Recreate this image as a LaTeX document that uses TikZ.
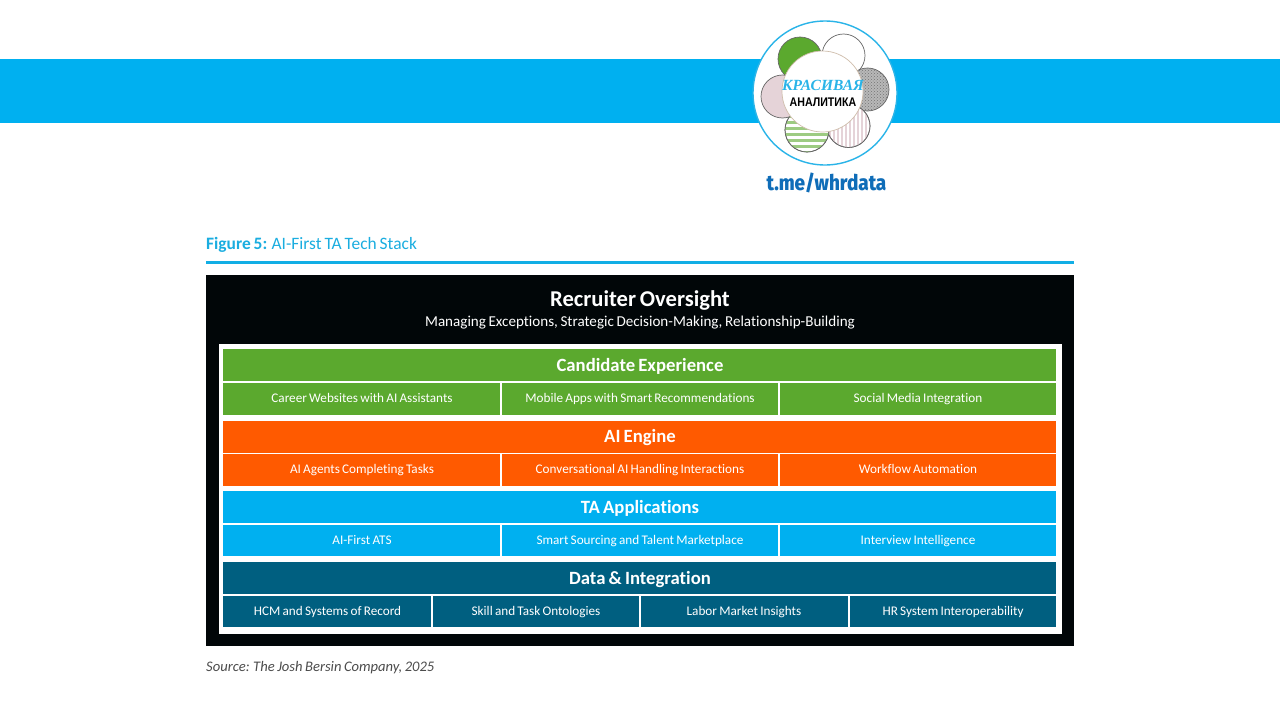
\documentclass[tikz,border=0pt]{standalone}
\usepackage{fontspec}
\setmainfont[WordSpace=0.75,Ligatures=CommonOff]{Carlito}
\newfontfamily\logoserif{Liberation Serif}
\newfontfamily\logosans{Liberation Sans}
\newfontfamily\logolink{Fira Sans ExtraBold}
\usetikzlibrary{patterns}
\definecolor{band}{HTML}{00B0F0}
\definecolor{ring}{HTML}{2AB4E8}
\definecolor{cgreen}{HTML}{5BA92E}
\definecolor{corange}{HTML}{FF5A00}
\definecolor{cteal}{HTML}{005F80}
\definecolor{stackblack}{HTML}{010608}
\definecolor{figblue}{HTML}{1AADE0}
\definecolor{linkblue}{HTML}{0F6DB8}
\definecolor{petalpink}{HTML}{E5D3D8}
\tikzset{
  x=1pt,y=-1pt,
  cell/.style={anchor=base,inner sep=0pt,text=white,font=\fontsize{13.2}{15}\selectfont},
  head/.style={anchor=base,inner sep=0pt,text=white,font=\bfseries\fontsize{18.7}{21}\selectfont},
  petal/.style={draw=black!60,line width=0.7pt},
}
\newcommand{\stackbar}[3]{\fill[#1] (223,#2) rectangle (1056,#3);}
\begin{document}
\begin{tikzpicture}
\useasboundingbox (0,0) rectangle (1280,720);
\fill[white] (0,0) rectangle (1280,720);
% band
\fill[band] (0,59) rectangle (1280,123);
% logo
\fill[white] (825,93) circle (72);
\draw[ring,line width=1.4pt] (825,93) circle (72);
\draw[petal,fill=cgreen] (800,59) circle (22);
\draw[petal,fill=white] (843.5,55.5) circle (21.5);
\fill[black!28] (867.5,89.5) circle (21.5);
\draw[petal,pattern=crosshatch dots,pattern color=black!55] (867.5,89.5) circle (21.5);
\draw[petal,fill=white] (848.5,126) circle (21.5);
\begin{scope}
\clip (848.5,126) circle (21.5);
\foreach \x in {826,830,...,872} \draw[petalpink,line width=1.4pt] (\x,100) -- (\x,150);
\end{scope}
\draw[petal] (848.5,126) circle (21.5);
\draw[petal,fill=white] (807,130) circle (22);
\begin{scope}
\clip (807,130) circle (22);
\foreach \y in {110,116,...,156} \draw[cgreen!60,line width=3pt] (780,\y) -- (832,\y);
\end{scope}
\draw[petal] (807,130) circle (22);
\draw[petal,fill=petalpink] (782.5,96.5) circle (21.5);
\fill[white] (822.5,91.5) circle (40.5);
\draw[black!30!brown!40,line width=0.7pt] (822.5,91.5) circle (40.5);
\node[anchor=base,inner sep=0pt,text=ring,font=\logoserif\itshape\bfseries\fontsize{15.5}{15}\selectfont] (logotop) at (823,90) {КРАСИВАЯ};
\node[anchor=base,inner sep=0pt,text=black,font=\logosans\bfseries\fontsize{12.5}{12}\selectfont,xscale=0.85] (logobot) at (823,106.5) {АНАЛИТИКА};
\node[anchor=base,inner sep=0pt,text=linkblue,font=\logolink\fontsize{21.5}{22}\selectfont,xscale=0.88] (logolink) at (826.5,190) {t.me/whrdata};
% title
\node[anchor=base west,inner sep=0pt,text=figblue,font=\fontsize{17.4}{20}\selectfont] (figtitle) at (206,249) {\textbf{Figure 5:} AI-First TA Tech Stack};
\fill[figblue!70!band] (206,260.5) rectangle (1073.5,264);
% black frame
\fill[stackblack] (206,275) rectangle (1074,646);
\node[anchor=base,inner sep=0pt,text=white,font=\bfseries\fontsize{22.6}{25}\selectfont] (oversight) at (640,306) {Recruiter Oversight};
\node[anchor=base,inner sep=0pt,text=white,font=\fontsize{15.1}{18}\selectfont] (oversub) at (640,326) {Managing Exceptions, Strategic Decision-Making, Relationship-Building};
\fill[white] (218.5,344) rectangle (1062,634);
% candidate experience
\stackbar{cgreen}{349}{381.4}
\stackbar{cgreen}{382.8}{415}
\node[head] (h1) at (640,371) {Candidate Experience};
\node[cell] (c11) at (362,402) {Career Websites with AI Assistants};
\node[cell] (c12) at (640,402) {Mobile Apps with Smart Recommendations};
\node[cell] (c13) at (918,402) {Social Media Integration};
\fill[white] (500.2,382) rectangle (502.2,415);
\fill[white] (777.8,382) rectangle (779.8,415);
% ai engine
\stackbar{corange}{421}{452.8}
\stackbar{corange}{454.2}{486}
\node[head] (h2) at (640,442) {AI Engine};
\node[cell] (c21) at (362,473) {AI Agents Completing Tasks};
\node[cell] (c22) at (640,473) {Conversational AI Handling Interactions};
\node[cell] (c23) at (918,473) {Workflow Automation};
\fill[white] (500.2,453) rectangle (502.2,486);
\fill[white] (777.8,453) rectangle (779.8,486);
% ta applications
\stackbar{band}{491}{523.4}
\stackbar{band}{524.8}{556}
\node[head] (h3) at (640,513) {TA Applications};
\node[cell] (c31) at (362,544) {AI-First ATS};
\node[cell] (c32) at (640,544) {Smart Sourcing and Talent Marketplace};
\node[cell] (c33) at (918,544) {Interview Intelligence};
\fill[white] (500.2,524) rectangle (502.2,556);
\fill[white] (777.8,524) rectangle (779.8,556);
% data integration
\stackbar{cteal}{562}{594.4}
\stackbar{cteal}{595.8}{627}
\node[head] (h4) at (640,584) {Data \& Integration};
\node[cell] (c41) at (327.5,615) {HCM and Systems of Record};
\node[cell] (c42) at (536,615) {Skill and Task Ontologies};
\node[cell] (c43) at (744,615) {Labor Market Insights};
\node[cell] (c44) at (953,615) {HR System Interoperability};
\fill[white] (431.4,595) rectangle (433,627);
\fill[white] (639.4,595) rectangle (641,627);
\fill[white] (848,595) rectangle (849.6,627);
% source
\node[anchor=base west,inner sep=0pt,text=black!70,font=\itshape\fontsize{14.6}{18}\selectfont] (source) at (206,671) {Source: The Josh Bersin Company, 2025};
\end{tikzpicture}
\end{document}
